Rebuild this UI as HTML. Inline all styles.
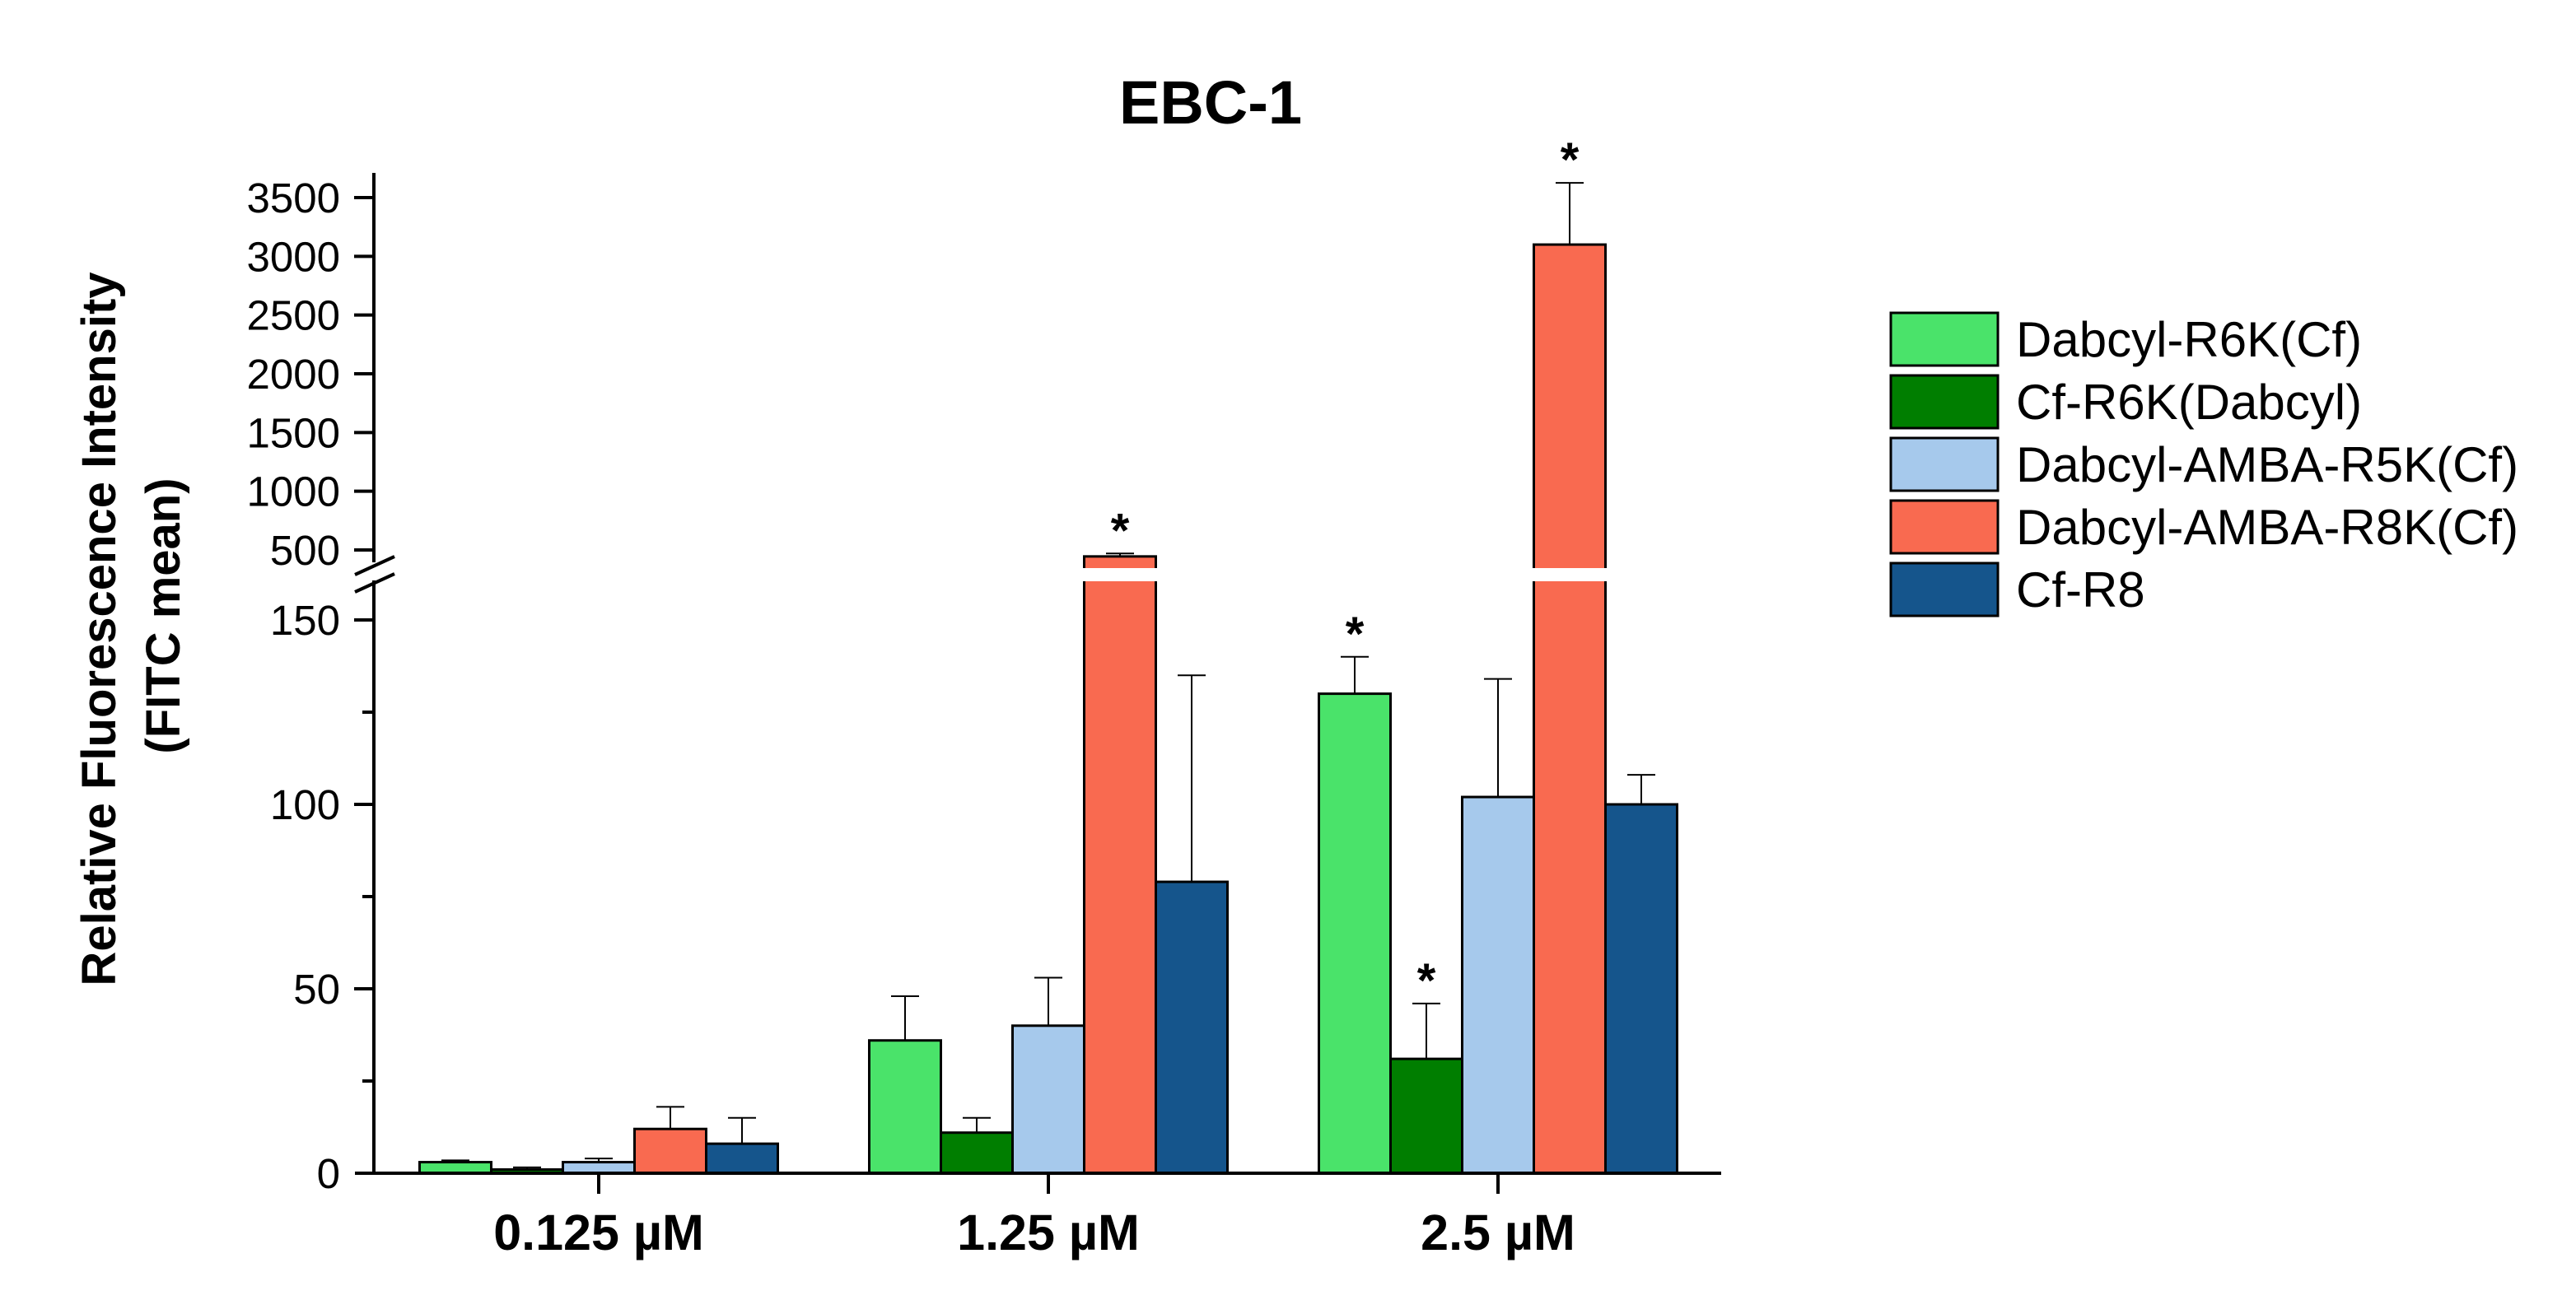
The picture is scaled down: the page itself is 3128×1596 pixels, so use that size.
<!DOCTYPE html>
<html><head><meta charset="utf-8"><style>
html,body{margin:0;padding:0;background:#fff;}
svg{display:block;font-family:"Liberation Sans",Arial,sans-serif;}
</style></head><body>
<svg id="chart" width="3128" height="1596" viewBox="0 0 3128 1596" xmlns="http://www.w3.org/2000/svg">
<text x="1470" y="150" font-size="74" font-weight="bold" text-anchor="middle">EBC-1</text>
<g>
<text transform="translate(140,764) rotate(-90)" font-size="58" font-weight="bold" text-anchor="middle">Relative Fluorescence Intensity</text>
<text transform="translate(218,748) rotate(-90)" font-size="58" font-weight="bold" text-anchor="middle">(FITC mean)</text>
</g>
<g id="plot"></g>
<g id="legend"></g>
</svg>
<script>
const categories = ["0.125 µM", "1.25 µM", "2.5 µM"];
const seriesNames = ["Dabcyl-R6K(Cf)", "Cf-R6K(Dabcyl)", "Dabcyl-AMBA-R5K(Cf)", "Dabcyl-AMBA-R8K(Cf)", "Cf-R8"];
const seriesColors = ["#4AE36A", "#007E00", "#A6C9EC", "#F96A50", "#15558C"];
const s1Values = [3, 36, 130];
const s2Values = [1, 11, 31];
const s3Values = [3, 40, 102];
const s4Values = [12, 445, 3100];
const s5Values = [8, 79, 100];
const s1ErrTop = [3.5, 48, 140];
const s2ErrTop = [1.6, 15, 46];
const s3ErrTop = [4, 53, 134];
const s4ErrTop = [18, 470, 3625];
const s5ErrTop = [15, 135, 108];
const s1Sig = [false, false, true];
const s2Sig = [false, false, true];
const s3Sig = [false, false, false];
const s4Sig = [false, true, true];
const s5Sig = [false, false, false];
const lowerTicks = [0, 50, 100, 150];
const lowerMinor = [25, 75, 125];
const upperTicks = [500, 1000, 1500, 2000, 2500, 3000, 3500];

const values = [s1Values, s2Values, s3Values, s4Values, s5Values];
const errTops = [s1ErrTop, s2ErrTop, s3ErrTop, s4ErrTop, s5ErrTop];
const sigs = [s1Sig, s2Sig, s3Sig, s4Sig, s5Sig];

const NS = "http://www.w3.org/2000/svg";
const plot = document.getElementById("plot");
const legend = document.getElementById("legend");
const axisX = 454, baseY = 1425, xEnd = 2090;
const lowPx = (1425 - 753) / 150;
const upPx = (668 - 240) / 3000;
function y(v) { return v <= 155 ? baseY - v * lowPx : 668 - (v - 500) * upPx; }
const groupC0 = 727, groupStep = 546, barW = 87;
function xGroup(i) { return groupC0 + i * groupStep; }
function xBar(i, s) { return xGroup(i) + (s - 2) * barW - barW / 2; }
function mk(tag, attrs, parent) {
  const e = document.createElementNS(NS, tag);
  for (const k in attrs) e.setAttribute(k, attrs[k]);
  (parent || plot).appendChild(e);
  return e;
}

for (let s = 0; s < 5; s++) {
  for (let i = 0; i < categories.length; i++) {
    const v = values[s][i];
    const top = y(v);
    const bx = xBar(i, s);
    const cx = bx + barW / 2;
    const et = y(errTops[s][i]);
    const eb = mk("line", {x1: cx, x2: cx, y1: top, y2: et, stroke: "#000", "stroke-width": 2});
    
    
    const cap = mk("line", {x1: cx - 17, x2: cx + 17, y1: et, y2: et, stroke: "#000", "stroke-width": 2});
    
    
    const r = mk("rect", {x: bx, y: top, width: barW, height: baseY - top, fill: seriesColors[s], stroke: "#000", "stroke-width": 3});
    
    
    if (v > 155) {
      const gap = mk("rect", {x: bx - 3, y: 690, width: barW + 6, height: 16, fill: "#fff"});
      
      
    }
    if (sigs[s][i]) {
      const t = mk("text", {x: cx, y: et - 8, "font-size": 58, "font-weight": "bold", "text-anchor": "middle"});
      t.textContent = "*";
      
      
    }
  }
}

const ya1 = mk("line", {x1: axisX, x2: axisX, y1: 210, y2: 683, stroke: "#000", "stroke-width": 4});


const ya2 = mk("line", {x1: axisX, x2: axisX, y1: 705, y2: baseY + 2, stroke: "#000", "stroke-width": 4});


const sl1 = mk("line", {x1: 431, y1: 698, x2: 479, y2: 676, stroke: "#000", "stroke-width": 4});


const sl2 = mk("line", {x1: 431, y1: 719, x2: 479, y2: 697, stroke: "#000", "stroke-width": 4});


const xa = mk("line", {x1: 431, x2: xEnd, y1: baseY, y2: baseY, stroke: "#000", "stroke-width": 4});



for (const t of lowerTicks.concat(upperTicks)) {
  const ty = y(t);
  if (t !== 0) {
    const tk = mk("line", {x1: 430, x2: axisX, y1: ty, y2: ty, stroke: "#000", "stroke-width": 4});
    
    
  }
  const lb = mk("text", {x: 413, y: ty + 18, "font-size": 51, "text-anchor": "end"});
  lb.textContent = t;
  
  
}
for (const t of lowerMinor) {
  const ty = y(t);
  const tk = mk("line", {x1: 440, x2: axisX, y1: ty, y2: ty, stroke: "#000", "stroke-width": 4});
  
  
}
for (let i = 0; i < categories.length; i++) {
  const gx = xGroup(i);
  const tk = mk("line", {x1: gx, x2: gx, y1: baseY, y2: baseY + 25, stroke: "#000", "stroke-width": 4});
  
  
  const lb = mk("text", {x: gx, y: 1518, "font-size": 61, "font-weight": "bold", "text-anchor": "middle"});
  lb.textContent = categories[i];
  
  
}

for (let s = 0; s < seriesNames.length; s++) {
  const ly = 380 + s * 76;
  const sw = mk("rect", {x: 2296, y: ly, width: 130, height: 64, fill: seriesColors[s], stroke: "#000", "stroke-width": 3}, legend);
  
  
  const tx = mk("text", {x: 2448, y: ly + 53, "font-size": 60}, legend);
  tx.textContent = seriesNames[s];
  
  
}
</script>
</body></html>
